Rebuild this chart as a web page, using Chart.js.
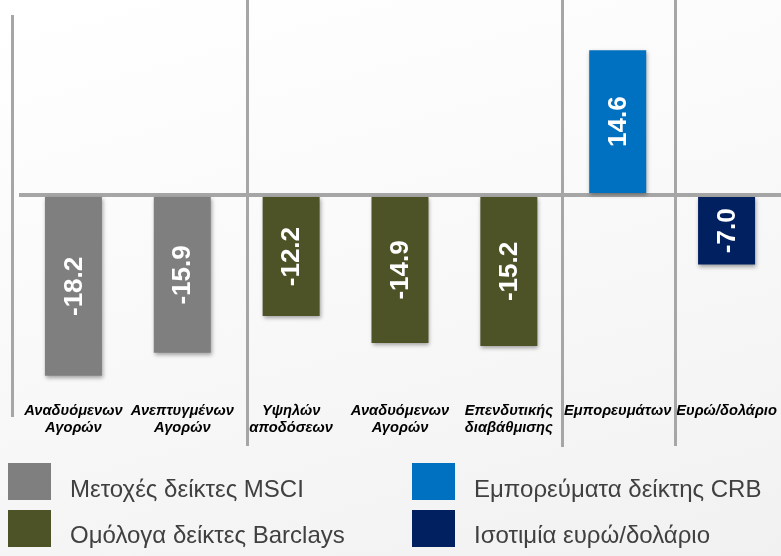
<!DOCTYPE html>
<html>
<head>
<meta charset="utf-8">
<script src="https://cdn.jsdelivr.net/npm/chart.js@4/dist/chart.umd.min.js"></script>
<style>
  html, body { margin: 0; padding: 0; overflow: hidden; }
  body { width: 781px; height: 556px; position: relative;
    background: linear-gradient(165deg, #ffffff 0%, #fafafa 40%, #f1f1f1 100%);
    font-family: "Liberation Sans", Arial, sans-serif; }
  #c { position: absolute; left: 0; top: 0; }
  .lg { position: absolute; font-size: 24px; line-height: 24px; color: #404040; white-space: nowrap; }
  .sw { position: absolute; width: 43px; height: 37px; }
</style>
</head>
<body>
<canvas id="c" width="781" height="556"></canvas>
<div id="legend"></div>
<script>
// ---- data ----
const categories = [
  ["Αναδυόμενων", "Αγορών"],
  ["Ανεπτυγμένων", "Αγορών"],
  ["Υψηλών", "αποδόσεων"],
  ["Αναδυόμενων", "Αγορών"],
  ["Επενδυτικής", "διαβάθμισης"],
  "Εμπορευμάτων",
  "Ευρώ/δολάριο"
];
const seriesNames = [
  "Μετοχές δείκτες MSCI",
  "Ομόλογα δείκτες Barclays",
  "Εμπορεύματα δείκτης CRB",
  "Ισοτιμία ευρώ/δολάριο"
];
const msciValues     = [-18.2, -15.9, null, null, null, null, null];
const barclaysValues = [null, null, -12.2, -14.9, -15.2, null, null];
const crbValues      = [null, null, null, null, null, 14.6, null];
const eurUsdValues   = [null, null, null, null, null, null, -7.0];

// ---- styles ----
const seriesColors = ["#7f7f7f", "#4e5227", "#0070c0", "#002060"];
const seriesData = [msciValues, barclaysValues, crbValues, eurUsdValues];

const datasets = seriesNames.map((n, i) => ({
  label: n,
  data: seriesData[i],
  backgroundColor: seriesColors[i],
  borderWidth: 0
}));

// separator lines (positions in category-index units) – decoration
const separators = [
  { at: -0.564, top: 15, bottom: 417 },
  { at: 1.59,   top: 0,  bottom: 446 },
  { at: 4.484,  top: 0,  bottom: 447 },
  { at: 5.526,  top: 0,  bottom: 446 }
];

const shadowPlugin = {
  id: 'barShadow',
  beforeDatasetsDraw(chart) {
    const ctx = chart.ctx;
    ctx.save();
    ctx.shadowColor = 'rgba(0,0,0,0.35)';
    ctx.shadowBlur = 4;
    ctx.shadowOffsetX = 1;
    ctx.shadowOffsetY = 2;
  },
  afterDatasetsDraw(chart) {
    const ctx = chart.ctx;
    ctx.restore();
    ctx.save();
    ctx.fillStyle = '#ffffff';
    ctx.font = 'bold 26px "Liberation Sans", Arial, sans-serif';
    ctx.textAlign = 'center';
    ctx.textBaseline = 'middle';
    chart.data.datasets.forEach((ds, di) => {
      const meta = chart.getDatasetMeta(di);
      meta.data.forEach((el, i) => {
        const v = ds.data[i];
        if (v === null || v === undefined) return;
        const cy = (el.y + el.base) / 2;
        ctx.save();
        ctx.translate(el.x, cy);
        ctx.rotate(-Math.PI / 2);
        ctx.fillText(v.toFixed(1), 0, 1);
        ctx.restore();
      });
    });
    ctx.restore();
  }
};

const separatorPlugin = {
  id: 'separators',
  afterDraw(chart) {
    const ctx = chart.ctx;
    const xs = chart.scales.x;
    ctx.save();
    ctx.strokeStyle = '#a6a6a6';
    ctx.lineWidth = 3;
    separators.forEach(s => {
      const x = Math.round(xs.getPixelForValue(s.at)) + 0.5;
      ctx.beginPath();
      ctx.moveTo(x, s.top);
      ctx.lineTo(x, s.bottom);
      ctx.stroke();
    });
    ctx.restore();
  }
};

new Chart(document.getElementById('c'), {
  type: 'bar',
  data: { labels: categories, datasets },
  options: {
    responsive: false,
    animation: false,
    devicePixelRatio: 1,
    layout: { padding: { left: 19, right: 0, top: 0, bottom: 116 } },
    datasets: { bar: { grouped: false, barPercentage: 0.5236, categoryPercentage: 1 } },
    plugins: { legend: { display: false }, tooltip: { enabled: false } },
    scales: {
      x: {
        offset: true,
        grid: { display: false, drawTicks: false },
        border: { display: false },
        ticks: {
          color: '#000000',
          padding: 4,
          maxRotation: 0,
          autoSkip: false,
          font: { family: '"Liberation Sans", Arial, sans-serif', size: 14.7, weight: 'bold', style: 'italic', lineHeight: 1.12 }
        }
      },
      y: {
        min: -20.56,
        max: 19.66,
        z: 1,
        ticks: { display: false, stepSize: 5 },
        border: { display: false },
        grid: {
          drawTicks: false,
          lineWidth: 4,
          color: (c) => (c.tick && c.tick.value === 0) ? '#a6a6a6' : 'rgba(0,0,0,0)'
        }
      }
    }
  },
  plugins: [shadowPlugin, separatorPlugin]
});

// ---- HTML legend built from the series ----
const legendPos = [
  { box: [8, 463],   text: [70, 476.5] },
  { box: [8, 510],   text: [70, 523] },
  { box: [412, 463], text: [474, 476.5] },
  { box: [412, 510], text: [474, 523] }
];
const lg = document.getElementById('legend');
seriesNames.forEach((n, i) => {
  const sw = document.createElement('div');
  sw.className = 'sw';
  sw.style.left = legendPos[i].box[0] + 'px';
  sw.style.top = legendPos[i].box[1] + 'px';
  sw.style.background = seriesColors[i];
  lg.appendChild(sw);
  const t = document.createElement('div');
  t.className = 'lg';
  t.style.left = legendPos[i].text[0] + 'px';
  t.style.top = legendPos[i].text[1] + 'px';
  t.textContent = n;
  lg.appendChild(t);
});
</script>
</body>
</html>
